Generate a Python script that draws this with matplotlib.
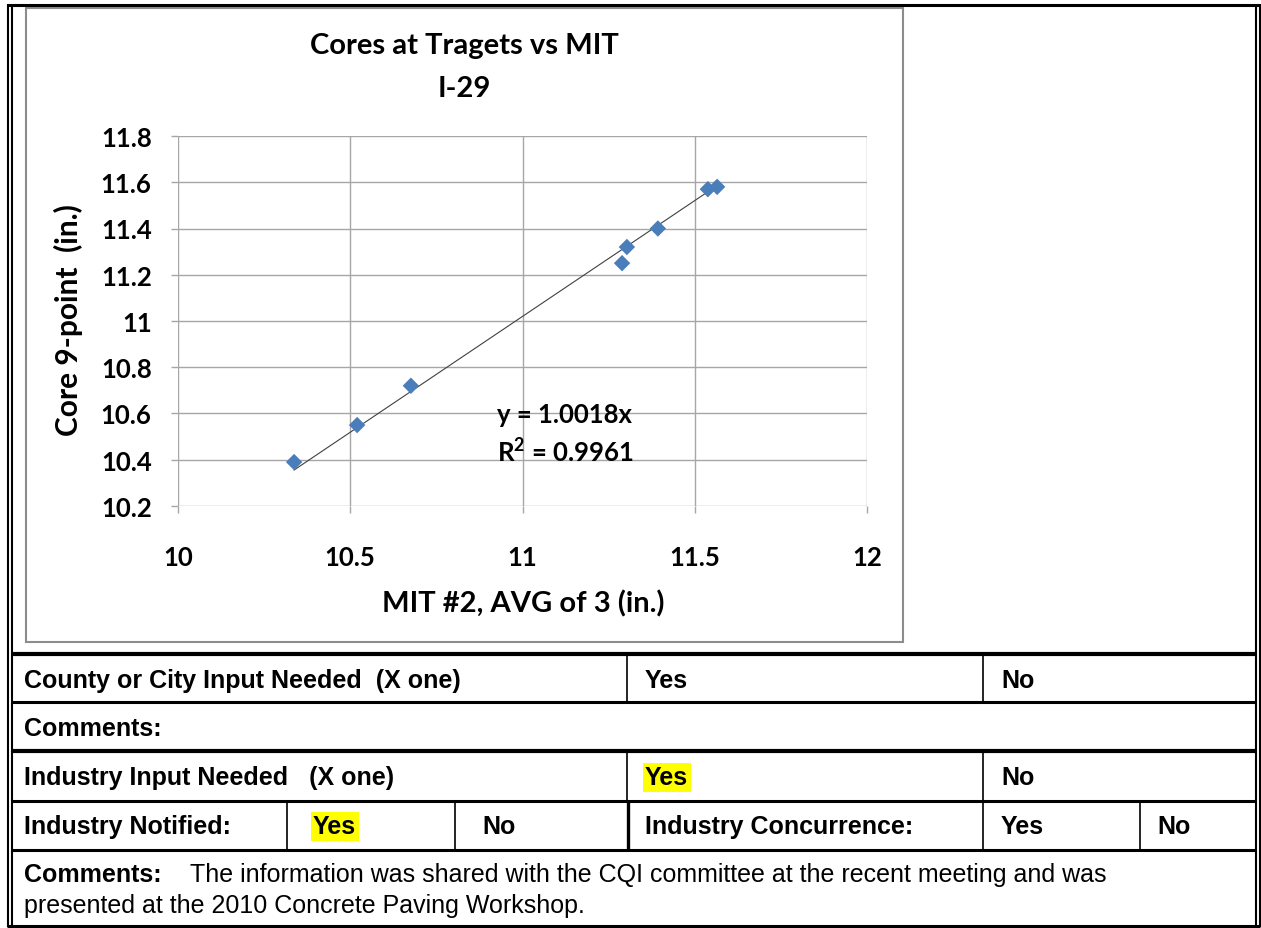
import matplotlib
matplotlib.use("Agg")
import matplotlib.pyplot as plt
from matplotlib.lines import Line2D
from matplotlib.patches import Rectangle
import numpy as np

# ---------------- data ----------------
mit_avg = [10.337, 10.520, 10.676, 11.289, 11.303, 11.393, 11.538, 11.565]
core_9pt = [10.39, 10.55, 10.72, 11.25, 11.32, 11.40, 11.57, 11.58]
slope = 1.0018
r_squared = 0.9961

title_lines = ["Cores at Tragets vs MIT", "I-29"]
x_label = "MIT #2, AVG of 3 (in.)"
y_label = "Core 9-point  (in.)"
x_ticks = [10, 10.5, 11, 11.5, 12]
x_tick_labels = ["10", "10.5", "11", "11.5", "12"]
y_ticks = [10.2, 10.4, 10.6, 10.8, 11.0, 11.2, 11.4, 11.6, 11.8]
y_tick_labels = ["10.2", "10.4", "10.6", "10.8", "11", "11.2", "11.4", "11.6", "11.8"]

row1 = ["County or City Input Needed  (X one)", "Yes", "No"]
row2 = ["Comments:"]
row3 = ["Industry Input Needed   (X one)", "Yes", "No"]
row4 = ["Industry Notified:", "Yes", "No", "Industry Concurrence:", "Yes", "No"]
comment_label = "Comments:"
comment_text = ["The information was shared with the CQI committee at the recent meeting and was",
                "presented at the 2010 Concrete Paving Workshop."]

W, H = 1261, 929
fig = plt.figure(figsize=(W / 100, H / 100), dpi=100)
fig.patch.set_facecolor("white")

# background "page" axes in pixel coordinates
bg = fig.add_axes([0, 0, 1, 1])
bg.set_xlim(0, W)
bg.set_ylim(H, 0)
bg.axis("off")

CHART_FONT = ["Lato", "DejaVu Sans"]
TABLE_FONT = ["Liberation Sans", "DejaVu Sans"]

def hline(y, x0, x1, lw):
    bg.add_line(Line2D([x0, x1], [y, y], color="black", lw=lw, solid_capstyle="butt"))

def vline(x, y0, y1, lw):
    bg.add_line(Line2D([x, x], [y0, y1], color="black", lw=lw, solid_capstyle="butt"))

# outer frame (double lines left/right)
hline(6, 7, 1260, 2.2)
hline(927, 7, 1260, 2.2)
vline(8, 5, 928, 1.5)
vline(12, 5, 928, 1.5)
vline(1255.5, 5, 928, 1.5)
vline(1259.5, 5, 928, 1.5)

# table rows
for y, lw in [(655, 3.0), (703, 2.2), (752, 3.0), (802, 2.2), (851, 2.2)]:
    hline(y, 12, 1256, lw)
vline(627, 655, 703, 1.2)
vline(983, 655, 703, 1.2)
vline(627, 752, 802, 1.2)
vline(983, 752, 802, 1.2)
vline(287, 802, 851, 1.2)
vline(455, 802, 851, 1.2)
vline(628, 802, 851, 2.4)
vline(983, 802, 851, 1.2)
vline(1140, 802, 851, 1.2)

# chart box
bg.add_patch(Rectangle((25.5, 9), 877, 634, fill=False, edgecolor="#8c8c8c", lw=1.5))

tfs = 18
def ttext(x, y, s, bold=True, hl=False):
    kw = dict(fontsize=tfs, fontweight="bold" if bold else "normal", family=TABLE_FONT,
              va="center", ha="left", color="black")
    if hl:
        kw["bbox"] = dict(boxstyle="square,pad=0.1", facecolor="#ffff00", edgecolor="none")
    bg.text(x, y, s, **kw)

ttext(24, 681, row1[0]); ttext(645, 681, row1[1]); ttext(1001, 681, row1[2])
ttext(24, 729, row2[0])
ttext(24, 778, row3[0]); ttext(645, 778, row3[1], hl=True); ttext(1001, 778, row3[2])
ttext(24, 827, row4[0]); ttext(313, 827, row4[1], hl=True); ttext(482, 827, row4[2])
ttext(645, 827, row4[3]); ttext(1001, 827, row4[4]); ttext(1157, 827, row4[5])
ttext(24, 875, comment_label)
ttext(190, 875, comment_text[0], bold=False)
ttext(24, 906, comment_text[1], bold=False)

# ---------------- chart ----------------
L, R, T, B = 178, 867, 137, 507
ax = fig.add_axes([L / W, 1 - B / H, (R - L) / W, (B - T) / H])
ax.set_xlim(10, 12)
ax.set_ylim(10.2, 11.8)
ax.set_xticks(x_ticks)
ax.set_xticklabels(x_tick_labels)
ax.set_yticks(y_ticks)
ax.set_yticklabels(y_tick_labels)
ax.grid(True, color="#a6a6a6", lw=1.0)
ax.set_axisbelow(True)
for s in ax.spines.values():
    s.set_visible(False)
ax.tick_params(axis="both", length=5, width=1, color="#a6a6a6", labelsize=18.5)
ax.tick_params(axis="y", pad=14)
ax.tick_params(axis="x", pad=23)
for lab in ax.get_xticklabels() + ax.get_yticklabels():
    lab.set_fontweight("bold")
    lab.set_family(CHART_FONT)

xs = np.array([min(mit_avg), max(mit_avg)])
ax.plot(xs, slope * xs, color="#404040", lw=0.8, zorder=2)
ax.scatter(mit_avg, core_9pt, marker="D", s=70, color="#4a7ebb", zorder=3, edgecolors="none")

ax.text(10.925, 10.597, f"y = {slope:.4f}x", fontsize=18.5, fontweight="bold",
        family=CHART_FONT, ha="left", va="center")
ax.text(10.925, 10.44, f"R$^\\mathregular{{2}}$ = {r_squared:.4f}", fontsize=18.5, fontweight="bold",
        family=CHART_FONT, ha="left", va="center")

bg.text(464, 46, title_lines[0], fontsize=21, fontweight="bold", family=CHART_FONT,
        ha="center", va="center")
bg.text(464, 89, title_lines[1], fontsize=21, fontweight="bold", family=CHART_FONT,
        ha="center", va="center")
bg.text(523, 604, x_label, fontsize=21, fontweight="bold", family=CHART_FONT,
        ha="center", va="center")
bg.text(68, 320, y_label, fontsize=21.5, fontweight="bold", family=CHART_FONT,
        ha="center", va="center", rotation=90)

fig.savefig("out.png", dpi=100)
